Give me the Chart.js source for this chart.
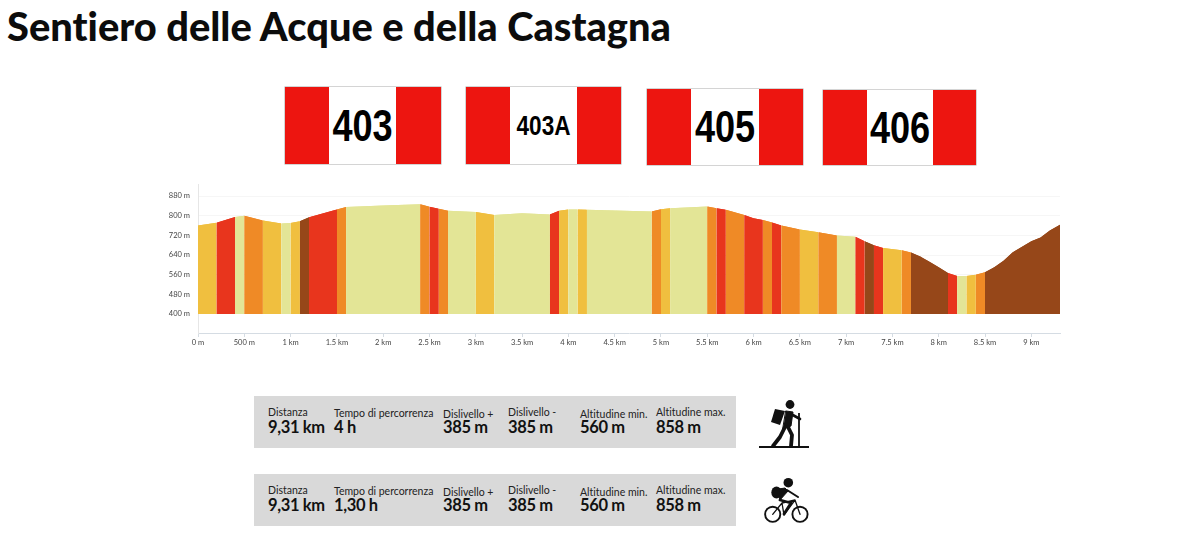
<!DOCTYPE html>
<html lang="it">
<head>
<meta charset="utf-8">
<title>Sentiero delle Acque e della Castagna</title>
<script src="https://cdn.jsdelivr.net/npm/chart.js@4"></script>
<style>
html,body{margin:0;padding:0;background:#fff;width:1200px;height:539px;overflow:hidden;font-family:Lato,sans-serif;color:#111}
.abs{position:absolute}
h1{position:absolute;left:7px;top:4px;margin:0;font:900 39.8px/44px Lato,sans-serif;color:#0c0c0c;white-space:nowrap;font-variant-ligatures:none}
.sign{position:absolute;background:#ed1510;box-shadow:0 0 0 .5px #aaa}
.sign i{position:absolute;top:0;bottom:0;background:#fff;display:block}
.sign span{position:absolute;top:0;bottom:0;display:flex;align-items:center;justify-content:center;color:#000;font-weight:700;font-family:"Liberation Sans",sans-serif;transform:scaleX(.82)}
.panel{position:absolute;left:254px;width:482px;height:52px;background:#d9d9d9}
.l{position:absolute;font:400 10.5px/12px Lato,sans-serif;color:#222;white-space:nowrap;font-variant-ligatures:none}
.v{position:absolute;top:22px;font:700 16.5px/18px Lato,sans-serif;letter-spacing:-.35px;color:#111;white-space:nowrap}
#wrap{position:absolute;left:160px;top:175px;width:920px;height:180px}
</style>
</head>
<body>
<h1 id="title"></h1>
<div id="signs"></div>
<div id="panels"></div>
<div id="wrap"><canvas id="c" width="920" height="180"></canvas></div>

<svg class="abs" style="left:750px;top:396px" width="70" height="135" viewBox="0 0 70 135">
  <g fill="#111" stroke="#111" stroke-linecap="round" stroke-linejoin="round">
    <line x1="9" y1="51" x2="59" y2="51" stroke-width="1.8" stroke-linecap="butt"/>
    <circle cx="40" cy="8.5" r="4.4" stroke="none"/>
    <path d="M25 13 L35 15 L30 29 L21 26 Z" stroke="none"/>
    <path d="M36 15 L43 16 L41 30 L33 33 Z" stroke-width="1"/>
    <line x1="41" y1="18" x2="50" y2="23" stroke-width="2.6"/>
    <path d="M35 31 L30 41 L23 50" fill="none" stroke-width="3.8"/>
    <path d="M38 31 L42 39 L41 50" fill="none" stroke-width="3.8"/>
    <line x1="49" y1="17" x2="49" y2="51" stroke-width="1.8" stroke-linecap="butt"/>
  </g>
  <g transform="translate(0,74)" fill="none" stroke="#111" stroke-linecap="round" stroke-linejoin="round">
    <circle cx="22.7" cy="44.3" r="7.6" stroke-width="1.9"/>
    <circle cx="50" cy="44.3" r="7.6" stroke-width="1.9"/>
    <path d="M22.7 44.3 L32 33 L45 30 L50 44.3 M32 33 L34 45 L45 30" stroke-width="1.3"/>
    <circle cx="38.3" cy="12.7" r="4.8" fill="#111" stroke="none"/>
    <ellipse cx="26.5" cy="22.5" rx="5.2" ry="6" fill="#111" stroke="none"/>
    <path d="M29 19 L35 18 L38 21 L30 30 Z" fill="#111" stroke-width="1"/>
    <path d="M37 20 L48 27" stroke-width="2"/>
    <path d="M30 30 L41 33 L34 44" stroke-width="2.8"/>
  </g>
</svg>

<script>
// ---- Chart data ----
const profileKm = [0,0.2,0.4,0.5,0.7,0.9,1.0,1.1,1.2,1.5,1.6,2.0,2.4,2.5,2.6,2.7,3.0,3.2,3.5,3.8,3.9,4.0,4.1,4.2,4.9,5.0,5.1,5.5,5.6,5.7,5.9,6.0,6.1,6.2,6.3,6.5,6.7,6.9,7.1,7.2,7.3,7.4,7.6,7.7,7.8,7.9,8.0,8.1,8.2,8.3,8.4,8.5,8.6,8.7,8.8,8.9,9.0,9.1,9.2,9.31];
const profileElev = [760,771,795,800,780,768,770,777,794,825,835,841,847,836,828,820,815,803,810,805,820,825,825,824,817,826,830,837,830,824,803,790,782,772,760,744,733,719,714,696,680,669,659,650,634,613,590,567,555,555,560,570,590,617,651,674,696,711,740,763];

const bandEnds = [0.2,0.4,0.5,0.7,0.9,1.0,1.1,1.2,1.5,1.6,2.4,2.5,2.6,2.7,3.0,3.2,3.8,3.9,4.0,4.1,4.2,4.9,5.0,5.1,5.5,5.6,5.7,5.9,6.1,6.2,6.3,6.5,6.7,6.9,7.1,7.2,7.3,7.4,7.6,7.7,8.1,8.2,8.3,8.4,8.5,9.31];
const bandGrades = ['y','r','p','o','y','p','y','b','r','o','p','o','r','o','p','y','p','r','y','p','y','p','o','y','p','o','r','o','r','o','r','o','y','o','p','r','b','r','y','o','b','r','p','y','o','b'];
const gradeColors = {p:'#e3e596',y:'#f0bf3f',o:'#ef8a26',r:'#e8351d',b:'#964719'};

const yTicks = [400,480,560,640,720,800,880];
const xTicks = [0,0.5,1,1.5,2,2.5,3,3.5,4,4.5,5,5.5,6,6.5,7,7.5,8,8.5,9];
const xTickLabels = ['0 m','500 m','1 km','1.5 km','2 km','2.5 km','3 km','3.5 km','4 km','4.5 km','5 km','5.5 km','6 km','6.5 km','7 km','7.5 km','8 km','8.5 km','9 km'];

// ---- Page texts ----
const titleText = 'Sentiero delle Acque e della Castagna';
const signNames = ['403','403A','405','406'];
const statLabels = ['Distanza','Tempo di percorrenza','Dislivello +','Dislivello -','Altitudine min.','Altitudine max.'];
const hikeValues = ['9,31 km','4 h','385 m','385 m','560 m','858 m'];
const bikeValues = ['9,31 km','1,30 h','385 m','385 m','560 m','858 m'];

document.getElementById('title').textContent = titleText;

const signBoxes = [
  {l:285,t:87,w:156,h:77,wl:44,ww:67,fs:44},
  {l:466,t:87,w:155,h:77,wl:44,ww:67,fs:27.5},
  {l:647,t:89,w:156,h:76,wl:44,ww:68,fs:44},
  {l:823,t:90,w:153,h:75,wl:44,ww:66,fs:44}
];
signBoxes.forEach((b,i)=>{
  const s=document.createElement('div');s.className='sign';
  s.style.cssText=`left:${b.l}px;top:${b.t}px;width:${b.w}px;height:${b.h}px`;
  const w=document.createElement('i');w.style.left=b.wl+'px';w.style.width=b.ww+'px';
  const t=document.createElement('span');t.textContent=signNames[i];
  t.style.left=b.wl+'px';t.style.width=b.ww+'px';t.style.fontSize=b.fs+'px';
  s.append(w,t);document.getElementById('signs').append(s);
});

const colX=[268,334,443,508,580,656];
const labelDy=[10,11,12,10,12,10];
[[396,hikeValues],[474,bikeValues]].forEach(([top,vals])=>{
  const p=document.createElement('div');p.className='panel';p.style.top=top+'px';
  document.getElementById('panels').append(p);
  colX.forEach((x,i)=>{
    const l=document.createElement('div');l.className='l';l.textContent=statLabels[i];
    l.style.left=(x-254)+'px';l.style.top=labelDy[i]+'px';
    const v=document.createElement('div');v.className='v';v.textContent=vals[i];
    v.style.left=(x-254)+'px';
    p.append(l,v);
  });
});

function gradeAt(km){
  const i=bandEnds.findIndex(e=>km<e-1e-6);
  return gradeColors[bandGrades[i<0?bandGrades.length-1:i]];
}

const profilePoints = profileKm.map((km,i)=>({x:km,y:profileElev[i]}));
const profileLayer = () => ({
  data:profilePoints,
  borderWidth:0,borderColor:'transparent',pointRadius:0,tension:0,
  fill:{value:400},backgroundColor:gradeColors.p,
  segment:{backgroundColor:ctx=>gradeAt(ctx.p0.parsed.x)}
});

new Chart(document.getElementById('c'),{
  type:'line',
  // the same profile is filled twice so that no pale seams show between bands
  data:{datasets:[profileLayer(),profileLayer()]},
  options:{
    responsive:false,animation:false,
    layout:{padding:{left:0,right:20,top:9,bottom:0}},
    plugins:{legend:{display:false},tooltip:{enabled:false},title:{display:false}},
    scales:{
      x:{type:'linear',min:0,max:9.31,
        afterBuildTicks:s=>{s.ticks=xTicks.map(v=>({value:v}));},
        afterFit:s=>{s.height=22;},
        grid:{drawOnChartArea:false,drawTicks:true,tickLength:4,color:'#d5dce3'},
        border:{color:'#d5dce3'},
        ticks:{autoSkip:false,maxRotation:0,padding:1,color:'#444',font:{family:'Lato',size:7.5},
          callback:v=>xTickLabels[xTicks.indexOf(v)]}
      },
      y:{type:'linear',min:322.6,max:929,
        afterBuildTicks:s=>{s.ticks=yTicks.map(v=>({value:v}));},
        afterFit:s=>{s.width=38;s.paddingTop=0;s.paddingBottom=0;},
        grid:{color:'#f6f6f6',drawTicks:false},
        border:{color:'#e6e6e6'},
        ticks:{autoSkip:false,padding:8,color:'#444',font:{family:'Lato',size:7.5},callback:v=>v+' m'}
      }
    }
  }
});
</script>
</body>
</html>
